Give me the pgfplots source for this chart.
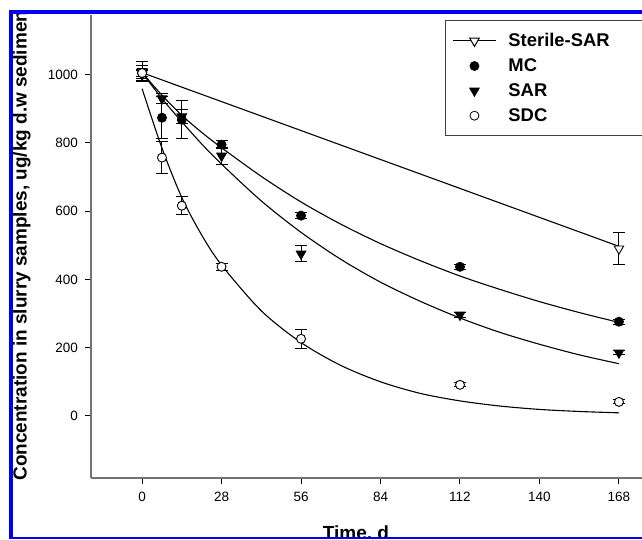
\documentclass[border=0pt]{standalone}
\usepackage{fontspec}
\setmainfont{Liberation Sans}
\usepackage{pgfplots}
\pgfplotsset{compat=1.18}
\definecolor{frameblue}{RGB}{0,0,245}

\pgfplotsset{
  fitline/.style={black, line width=1.1pt, smooth, no marks, forget plot},
  pts/.style={black, line width=0.9pt, forget plot, only marks,
    error bars/y dir=both, error bars/y explicit,
    error bars/error bar style={black, line width=1pt, solid},
    error bars/error mark options={rotate=90, mark size=6pt, line width=1pt, black}},
  legimg/.style={legend image code/.code={
    \path (0pt,0pt) (43pt,0pt);
    \draw[mark repeat=2, mark phase=2, ##1] plot coordinates {(0pt,0pt) (21.5pt,0pt) (43pt,0pt)};}},
}

\begin{document}
\begin{tikzpicture}[x=1pt,y=1pt]
\useasboundingbox (0,0) rectangle (642,539);
\fill[white] (0,0) rectangle (642,539);
\begin{scope}
\clip (13,2.5) rectangle (642,525);
\begin{axis}[
  at={(91pt,61pt)}, anchor=south west,
  scale only axis, width=562pt, height=463pt,
  xmin=-18, xmax=180, ymin=-182, ymax=1175,
  axis x line*=bottom, axis y line*=left,
  axis line style={black!55, line width=1.2pt, -},
  xtick={0,28,...,168}, ytick={0,200,...,1000},
  tick align=outside, major tick length=6pt,
  major tick style={black, line width=1pt},
  tick label style={font=\fontsize{13.5}{15}\selectfont},
  /pgf/number format/assume math mode=true,
  /pgf/number format/set thousands separator={},
  yticklabel style={xshift=-3.5pt},
  xticklabel style={yshift=-5pt},
  xlabel={Time, d},
  ylabel={Concentration in slurry samples, ug/kg d.w sediment},
  xlabel style={font=\fontsize{19}{22}\selectfont\bfseries, at={(axis description cs:0.4715,-0.133)}, anchor=base},
  ylabel style={font=\fontsize{18.95}{22}\selectfont\bfseries, at={(axis description cs:-0.123,0.5086)}, anchor=center},
  legend style={at={(axis description cs:0.63,0.989)}, anchor=north west,
    draw=black!75, line width=0.8pt, fill=white,
    font=\fontsize{18.4}{21}\selectfont\bfseries,
    row sep=6.5pt, column sep=10pt, inner xsep=7pt, inner ysep=11pt},
  legend cell align=left,
  clip=false,
]
% fitted curves
\addplot[fitline] coordinates {(0,1006) (168,497)};
\addplot[fitline] coordinates {(0,1006) (7,940) (14,881) (21,831) (28,786) (42,702) (56,627) (70,562) (84,505) (98,455) (112,410) (126,371) (140,335) (154,303) (168,274)};
\addplot[fitline] coordinates {(0,1006) (7,930) (14,862) (21,797) (28,738) (42,630) (56,538) (70,459) (84,392) (98,336) (112,287) (126,245) (140,210) (154,179) (168,153)};
\addplot[fitline] coordinates {(0,959) (7,785) (14,640) (21,530) (28,442) (42,308) (56,215) (70,148) (84,100) (98,66) (112,44) (126,29) (140,19) (154,13) (168,9)};

% measured points
\addplot[pts, mark=triangle*, mark size=5.5pt, mark options={rotate=180, fill=white, solid}]
  coordinates {(0,1010) +- (0,30) (168,490) +- (0,47)};
\addplot[pts, mark=*, mark size=4.5pt, mark options={fill=black}]
  coordinates {(0,1005) +- (0,22) (7,874) +- (0,62) (14,868) +- (0,55) (28,795) +- (0,12) (56,587) +- (0,8) (112,437) +- (0,8) (168,276) +- (0,8)};
\addplot[pts, mark=triangle*, mark size=5.5pt, mark options={rotate=180, fill=black}]
  coordinates {(0,1000) +- (0,12) (7,930) +- (0,15) (14,877) +- (0,20) (28,762) +- (0,25) (56,475) +- (0,23) (112,296) +- (0,8) (168,185) +- (0,6)};
\addplot[pts, mark=*, mark size=4.5pt, mark options={fill=white}]
  coordinates {(0,1005) +- (0,10) (7,757) +- (0,48) (14,616) +- (0,27) (28,437) +- (0,10) (56,226) +- (0,28) (112,91) +- (0,6) (168,41) +- (0,6)};

% legend
\addlegendimage{legimg, black, line width=1pt, mark=triangle*, mark size=5.5pt, mark options={rotate=180, fill=white}}
\addlegendentry{\makebox[150pt][l]{Sterile-SAR}}
\addlegendimage{legimg, black, only marks, mark=*, mark size=4.5pt, mark options={fill=black}}
\addlegendentry{MC}
\addlegendimage{legimg, black, only marks, mark=triangle*, mark size=5.5pt, mark options={rotate=180, fill=black}}
\addlegendentry{SAR}
\addlegendimage{legimg, black, only marks, mark=*, mark size=4.5pt, mark options={fill=white}}
\addlegendentry{SDC}
\end{axis}
\end{scope}
% blue frame of the cropped figure
\fill[frameblue] (9,0) rectangle (13,529);
\fill[frameblue] (9,525) rectangle (642,529);
\fill[frameblue] (9,0) rectangle (642,2.5);
\end{tikzpicture}
\end{document}
